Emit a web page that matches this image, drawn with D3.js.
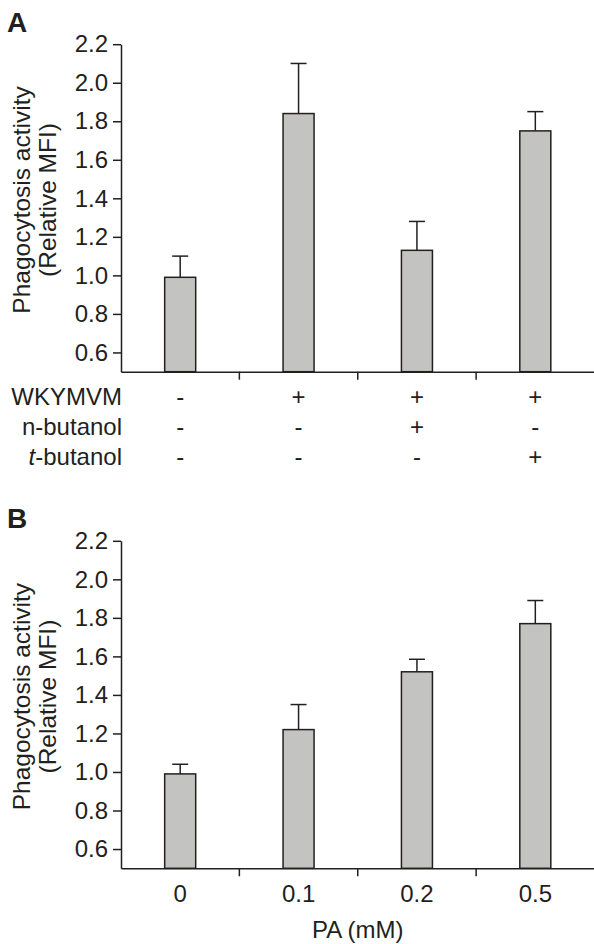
<!DOCTYPE html>
<html>
<head>
<meta charset="utf-8">
<script src="https://cdn.jsdelivr.net/npm/d3@7"></script>
<style>
  body { margin: 0; background: #fff; }
  svg text { font-family: "Liberation Sans", Arial, sans-serif; fill: #231f20; }
</style>
</head>
<body>
<div id="chart"></div>
<script>
// Panel A data
const groupsA = ["c1", "c2", "c3", "c4"];
const meanA = [0.99, 1.84, 1.13, 1.75];
const errTopA = [1.10, 2.10, 1.28, 1.85];
const condLabels = ["WKYMVM", "n-butanol", "t-butanol"];
const condSigns = [
  ["-", "+", "+", "+"],
  ["-", "-", "+", "-"],
  ["-", "-", "-", "+"]
];

// Panel B data
const groupsB = ["0", "0.1", "0.2", "0.5"];
const meanB = [0.99, 1.22, 1.52, 1.77];
const errTopB = [1.04, 1.35, 1.585, 1.89];

const yTicks = [0.6, 0.8, 1.0, 1.2, 1.4, 1.6, 1.8, 2.0, 2.2];

const width = 594, height = 944;
const fontSize = 24;

const svg = d3.select("#chart").append("svg")
  .attr("width", width)
  .attr("height", height);

// shared y scale (each panel is translated)
const y = d3.scaleLinear().domain([0.5, 2.2]).range([371.7, 44.2]);

function drawPanel(g, groups, means, errTops, letter) {
  const x = d3.scaleBand().domain(groups).range([121, 594.5]).padding(0);
  const barW = x.bandwidth() * 0.262;
  const capW = 16;

  // panel letter
  g.append("text")
    .attr("x", 7)
    .attr("y", 31.5)
    .style("font-size", "28px")
    .style("font-weight", "bold")
    .text(letter);

  // y axis title
  const title = g.append("g").attr("transform", "translate(0,200) rotate(-90)");
  title.append("text")
    .attr("x", 0).attr("y", 30)
    .attr("text-anchor", "middle")
    .style("font-size", "24.5px")
    .text("Phagocytosis activity");
  title.append("text")
    .attr("x", 0).attr("y", 56)
    .attr("text-anchor", "middle")
    .style("font-size", "24.5px")
    .text("(Relative MFI)");

  // error bars (upper only)
  const err = g.selectAll(".err").data(groups).enter().append("g");
  err.append("line")
    .attr("x1", d => x(d) + x.bandwidth() / 2)
    .attr("x2", d => x(d) + x.bandwidth() / 2)
    .attr("y1", (d, i) => y(means[i]))
    .attr("y2", (d, i) => y(errTops[i]))
    .attr("stroke", "#231f20").attr("stroke-width", 1.5);
  err.append("line")
    .attr("x1", d => x(d) + x.bandwidth() / 2 - capW / 2)
    .attr("x2", d => x(d) + x.bandwidth() / 2 + capW / 2)
    .attr("y1", (d, i) => y(errTops[i]))
    .attr("y2", (d, i) => y(errTops[i]))
    .attr("stroke", "#231f20").attr("stroke-width", 1.5);

  // bars
  g.selectAll(".bar").data(groups).enter().append("rect")
    .attr("x", d => x(d) + (x.bandwidth() - barW) / 2)
    .attr("width", barW)
    .attr("y", (d, i) => y(means[i]))
    .attr("height", (d, i) => y(0.5) - y(means[i]))
    .attr("fill", "#c3c3c1")
    .attr("stroke", "#231f20")
    .attr("stroke-width", 1.5);

  // y axis
  const yAxis = g.append("g")
    .attr("transform", `translate(${x.range()[0]},0)`)
    .call(d3.axisLeft(y).tickValues(yTicks).tickFormat(d3.format(".1f"))
      .tickSize(8).tickSizeOuter(0).tickPadding(5));
  yAxis.selectAll("text").style("font-size", fontSize + "px").attr("fill", "#231f20");
  yAxis.selectAll("line, path").attr("stroke", "#231f20").attr("stroke-width", 1.5);

  // x axis line with ticks between groups
  const xAxis = g.append("g")
    .attr("transform", `translate(0,${y(0.5)})`)
    .call(d3.axisBottom(x).tickSize(0).tickSizeOuter(0).tickFormat(""));
  xAxis.select("path").attr("stroke", "#231f20").attr("stroke-width", 1.5);
  xAxis.selectAll(".sep").data(groups.slice(1)).enter().append("line")
    .attr("x1", d => x(d)).attr("x2", d => x(d))
    .attr("y1", 0).attr("y2", 8)
    .attr("stroke", "#231f20").attr("stroke-width", 1.5);

  return x;
}

// Panel A
const gA = svg.append("g");
const xA = drawPanel(gA, groupsA, meanA, errTopA, "A");

// condition table below panel A
condLabels.forEach((lab, r) => {
  const baseY = 405 + r * 30;
  const t = gA.append("text")
    .attr("x", 122)
    .attr("y", baseY)
    .attr("text-anchor", "end")
    .style("font-size", fontSize + "px");
  if (lab === "t-butanol") {
    t.append("tspan").style("font-style", "italic").text("t");
    t.append("tspan").text("-butanol");
  } else {
    t.text(lab);
  }
  gA.selectAll(".sign" + r).data(condSigns[r]).enter().append("text")
    .attr("x", (d, i) => xA(groupsA[i]) + xA.bandwidth() / 2)
    .attr("y", baseY)
    .attr("text-anchor", "middle")
    .style("font-size", fontSize + "px")
    .text(d => d);
});

// Panel B
const gB = svg.append("g").attr("transform", "translate(0,496.6)");
const xB = drawPanel(gB, groupsB, meanB, errTopB, "B");

gB.selectAll(".xlab").data(groupsB).enter().append("text")
  .attr("x", d => xB(d) + xB.bandwidth() / 2)
  .attr("y", 405.2)
  .attr("text-anchor", "middle")
  .style("font-size", fontSize + "px")
  .text(d => d);

gB.append("text")
  .attr("x", (xB.range()[0] + xB.range()[1]) / 2)
  .attr("y", 441.5)
  .attr("text-anchor", "middle")
  .style("font-size", fontSize + "px")
  .text("PA (mM)");
</script>
</body>
</html>
